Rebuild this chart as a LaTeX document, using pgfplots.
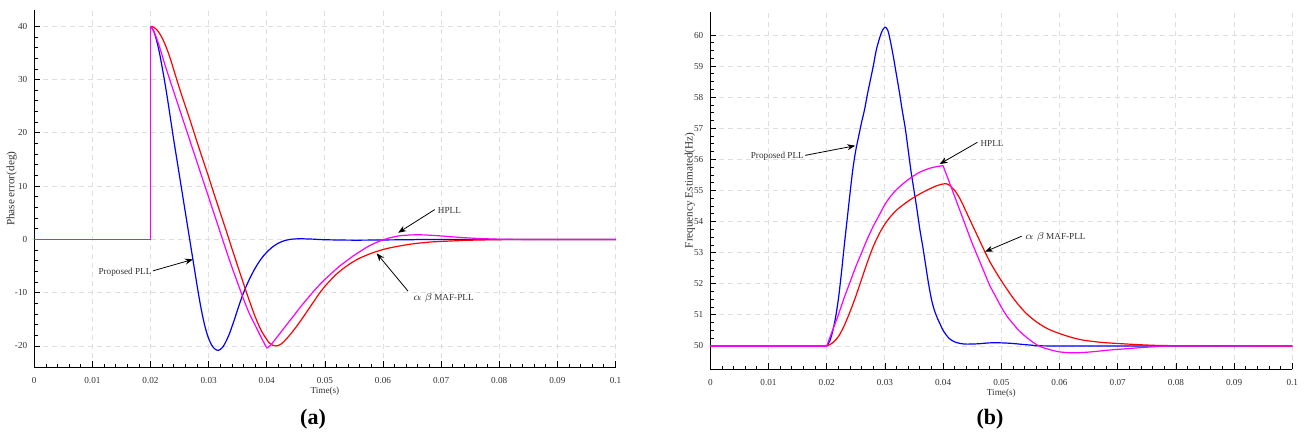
\documentclass[border=0pt]{standalone}
\usepackage{pgfplots}
\pgfplotsset{compat=1.18}
\usepackage{fontspec}
\setmainfont{Liberation Serif}
\usetikzlibrary{arrows.meta}
\definecolor{gridc}{RGB}{222,222,222}
\definecolor{cblue}{RGB}{0,0,255}
\definecolor{cred}{RGB}{255,0,0}
\definecolor{cmag}{RGB}{255,0,255}
\pgfplotsset{
 pllaxis/.style={
  scale only axis, xmin=0, xmax=0.1,
  axis x line=bottom, axis y line=left,
  axis line style={-, black, line width=0.5pt},
  xtick={0,0.01,0.02,0.03,0.04,0.05,0.06,0.07,0.08,0.09,0.1},
  xticklabels={0,0.01,0.02,0.03,0.04,0.05,0.06,0.07,0.08,0.09,0.1},
  minor x tick num=4,
  tick align=inside,
  major tick length=3pt, minor tick length=1.8pt,
  every tick/.style={black, line width=0.4pt},
  grid=major,
  major grid style={gridc, line width=0.45pt, dash pattern=on 2.5pt off 2pt},
  ticklabel style={font=\fontsize{4.6pt}{5pt}\selectfont, text=black!80},
  xticklabel style={yshift=-1.5pt},
  /pgf/number format/assume math mode=true,
  xlabel style={font=\fontsize{4.6pt}{5pt}\selectfont, text=black!80, at={(axis description cs:0.5,-0.066)}, anchor=center},
  ylabel style={font=\fontsize{5.6pt}{6pt}\selectfont, text=black!80, anchor=center},
  every axis plot/.append style={line width=0.6pt, no marks},
 },
}
\tikzset{
 arr/.style={-{Stealth[length=4pt,width=3pt]}, black, line width=0.4pt},
 ann/.style={font=\fontsize{4.6pt}{5pt}\selectfont, text=black!80, inner sep=0.5pt},
}
\begin{document}
\begin{tikzpicture}
\path[use as bounding box] (0,0) rectangle (652pt,219pt);
% ---------------- (a) ----------------
\begin{axis}[pllaxis,
  at={(17.15pt,35.35pt)}, anchor=south west,
  width=290.6pt, height=178.5pt,
  ymin=-24, ymax=43,
  ytick={-20,-10,0,10,20,30,40},
  minor y tick num=4,
  xlabel={Time(s)}, ylabel={Phase error(deg)},
  ylabel style={at={(axis description cs:-0.039,0.5)}},
]
% Proposed PLL (blue)
\addplot[cblue] coordinates {(0,0) (0.02,0) (0.02,40)};
\addplot[cblue, smooth] coordinates {
(0.02,40) (0.0205,39.2) (0.021,37.5) (0.0215,35.2) (0.022,32.3) (0.0225,29.2) (0.023,25.8) (0.0235,22.2) (0.024,18.6) (0.0245,15.2) (0.025,11.8) (0.0255,8.4) (0.026,5.0) (0.0265,1.6) (0.027,-1.8) (0.0275,-5.2) (0.028,-8.6) (0.0285,-11.8) (0.029,-14.6) (0.0295,-16.9) (0.030,-18.6) (0.0305,-19.8) (0.031,-20.5) (0.0316,-20.85) (0.032,-20.65) (0.0325,-20.1) (0.033,-19.1) (0.0335,-17.9) (0.034,-16.4) (0.0345,-14.8) (0.035,-13.1) (0.0355,-11.5) (0.036,-10.0) (0.0365,-8.7) (0.037,-7.5) (0.0375,-6.4) (0.038,-5.4) (0.0385,-4.5) (0.039,-3.7) (0.0395,-3.0) (0.040,-2.4) (0.041,-1.4) (0.042,-0.7) (0.043,-0.25) (0.044,0.0) (0.045,0.1) (0.046,0.12) (0.048,0.05) (0.05,-0.06) (0.055,-0.14) (0.06,-0.1) (0.065,-0.05) (0.07,0) (0.1,0)
};
% alpha beta MAF-PLL (red)
\addplot[cred] coordinates {(0,0) (0.02,0) (0.02,40)};
\addplot[cred, smooth] coordinates {
(0.02,40) (0.0205,39.85) (0.021,39.45) (0.0215,38.75) (0.022,37.8) (0.0225,36.6) (0.023,35.2) (0.0235,33.6) (0.024,31.8) (0.025,28.3) (0.026,25.0) (0.027,21.7) (0.028,18.3) (0.029,15.0) (0.030,11.7) (0.031,8.3) (0.032,5.0) (0.033,1.7) (0.034,-1.7) (0.035,-5.0) (0.036,-8.3) (0.037,-11.5) (0.038,-14.5) (0.039,-17.0) (0.040,-18.8) (0.0405,-19.5) (0.041,-19.85) (0.0415,-20.0) (0.042,-19.9) (0.0425,-19.6) (0.043,-19.1) (0.044,-17.9) (0.045,-16.5) (0.046,-15.0) (0.047,-13.4) (0.048,-11.8) (0.049,-10.2) (0.050,-8.8) (0.051,-7.6) (0.052,-6.5) (0.053,-5.6) (0.054,-4.8) (0.055,-4.1) (0.056,-3.5) (0.058,-2.6) (0.060,-1.9) (0.062,-1.4) (0.065,-0.85) (0.068,-0.5) (0.07,-0.38) (0.075,-0.15) (0.08,-0.05) (0.085,0) (0.1,0)
};
% HPLL (magenta)
\addplot[cmag] coordinates {(0,0) (0.02,0) (0.02,40)};
\addplot[cmag, smooth] coordinates {
(0.02,40) (0.0205,39.2) (0.021,37.9) (0.0215,36.3) (0.022,34.5) (0.0225,32.7) (0.023,31.0) (0.024,27.7) (0.025,24.4) (0.026,21.1) (0.027,17.8) (0.028,14.5) (0.029,11.2) (0.030,7.9) (0.031,4.6) (0.032,1.3) (0.033,-2.0) (0.034,-5.2) (0.035,-8.2) (0.036,-11.2) (0.037,-13.9) (0.038,-16.1) (0.039,-18.3) (0.040,-20.4)
};
\addplot[cmag, smooth] coordinates {
(0.040,-20.4) (0.0405,-20.0) (0.041,-19.4) (0.042,-18.0) (0.043,-16.6) (0.044,-15.2) (0.045,-13.8) (0.046,-12.4) (0.047,-11.1) (0.048,-9.8) (0.049,-8.6) (0.050,-7.5) (0.051,-6.5) (0.052,-5.5) (0.053,-4.6) (0.054,-3.8) (0.055,-3.0) (0.056,-2.3) (0.057,-1.6) (0.058,-1.0) (0.059,-0.5) (0.060,-0.1) (0.061,0.25) (0.062,0.5) (0.063,0.7) (0.065,0.85) (0.067,0.85) (0.07,0.65) (0.073,0.4) (0.076,0.2) (0.08,0.05) (0.085,0) (0.1,0)
};
\node[ann, anchor=east] at (axis cs:0.0204,-6.1) {Proposed PLL};
\draw[arr] (axis cs:0.0204,-5.9) -- (axis cs:0.0273,-3.75);
\node[ann, anchor=west] at (axis cs:0.0692,5.5) {HPLL};
\draw[arr] (axis cs:0.0689,5.6) -- (axis cs:0.0626,1.25);
\node[ann, anchor=west] at (axis cs:0.0649,-11.05) {$\alpha\ \beta$\,MAF-PLL};
\draw[arr] (axis cs:0.0643,-9.7) -- (axis cs:0.0589,-2.6);
\end{axis}
% ---------------- (b) ----------------
\begin{axis}[pllaxis,
  at={(355.15pt,34.35pt)}, anchor=south west,
  width=291pt, height=178.8pt,
  ymin=49.25, ymax=60.75,
  ytick={50,51,52,53,54,55,56,57,58,59,60},
  minor y tick num=3,
  xlabel={Time(s)}, ylabel={Frequency Estimated(Hz)},
  ylabel style={at={(axis description cs:-0.035,0.5)}},
]
\addplot[cblue] coordinates {(0,50) (0.02,50)};
\addplot[cblue, smooth] coordinates {
(0.02,50) (0.0205,50.15) (0.021,50.45) (0.0215,50.9) (0.022,51.5) (0.0225,52.3) (0.023,53.2) (0.0235,54.05) (0.024,54.9) (0.0245,55.7) (0.025,56.3) (0.0255,56.75) (0.026,57.2) (0.0265,57.6) (0.027,58.1) (0.0275,58.55) (0.028,59.0) (0.0285,59.5) (0.029,59.85) (0.0295,60.12) (0.030,60.25) (0.0305,60.15) (0.031,59.75) (0.0315,59.25) (0.032,58.7) (0.0325,58.15) (0.033,57.55) (0.0335,57.0) (0.034,56.3) (0.0345,55.6) (0.035,55.0) (0.0355,54.4) (0.036,53.75) (0.0365,53.2) (0.037,52.6) (0.0375,52.0) (0.038,51.5) (0.0385,51.15) (0.039,50.9) (0.0395,50.7) (0.040,50.5) (0.041,50.25) (0.042,50.13) (0.043,50.08) (0.044,50.06) (0.046,50.07) (0.048,50.1) (0.05,50.1) (0.052,50.08) (0.055,50.03) (0.06,50) (0.1,50)
};
\addplot[cred] coordinates {(0,50) (0.02,50)};
\addplot[cred, smooth] coordinates {
(0.02,50) (0.021,50.1) (0.022,50.3) (0.023,50.65) (0.024,51.1) (0.025,51.6) (0.026,52.15) (0.027,52.7) (0.028,53.2) (0.029,53.6) (0.030,53.92) (0.031,54.17) (0.032,54.37) (0.033,54.52) (0.034,54.66) (0.035,54.78) (0.036,54.89) (0.037,54.99) (0.038,55.08) (0.039,55.16) (0.040,55.21) (0.0405,55.22) (0.041,55.18) (0.042,55.0) (0.043,54.7) (0.044,54.3) (0.045,53.9) (0.046,53.5) (0.047,53.1) (0.048,52.72) (0.049,52.4) (0.05,52.1) (0.052,51.55) (0.054,51.1) (0.056,50.78) (0.058,50.55) (0.06,50.4) (0.062,50.28) (0.064,50.19) (0.067,50.12) (0.07,50.08) (0.075,50.03) (0.08,50.01) (0.1,50)
};
\addplot[cmag] coordinates {(0,50) (0.02,50)};
\addplot[cmag, smooth] coordinates {
(0.02,50) (0.021,50.5) (0.022,51.0) (0.023,51.55) (0.024,52.05) (0.025,52.55) (0.026,53.0) (0.027,53.45) (0.028,53.85) (0.029,54.2) (0.030,54.55) (0.031,54.82) (0.032,55.03) (0.033,55.2) (0.034,55.35) (0.035,55.48) (0.036,55.59) (0.037,55.67) (0.038,55.73) (0.039,55.77) (0.040,55.8)
};
\addplot[cmag, smooth] coordinates {
(0.040,55.8) (0.041,55.3) (0.042,54.8) (0.043,54.3) (0.044,53.8) (0.045,53.3) (0.046,52.85) (0.047,52.4) (0.048,51.95) (0.049,51.6) (0.05,51.25) (0.051,50.95) (0.052,50.72) (0.053,50.5) (0.054,50.33) (0.055,50.18) (0.056,50.05) (0.057,49.96) (0.058,49.9) (0.059,49.85) (0.06,49.81) (0.062,49.78) (0.064,49.79) (0.066,49.82) (0.068,49.86) (0.07,49.89) (0.075,49.96) (0.08,50) (0.1,50)
};
\node[ann, anchor=east] at (axis cs:0.0163,56.1) {Proposed PLL};
\draw[arr] (axis cs:0.0163,56.13) -- (axis cs:0.0249,56.44);
\node[ann, anchor=west] at (axis cs:0.0462,56.52) {HPLL};
\draw[arr] (axis cs:0.0459,56.55) -- (axis cs:0.0394,55.85);
\node[ann, anchor=west] at (axis cs:0.0538,53.51) {$\alpha\ \beta$\,MAF-PLL};
\draw[arr] (axis cs:0.0535,53.53) -- (axis cs:0.0472,53.03);
\end{axis}
\node[font=\fontsize{11pt}{12pt}\selectfont\bfseries] at (156.5pt,9.5pt) {(a)};
\node[font=\fontsize{11pt}{12pt}\selectfont\bfseries] at (495pt,9.5pt) {(b)};
\end{tikzpicture}
\end{document}
